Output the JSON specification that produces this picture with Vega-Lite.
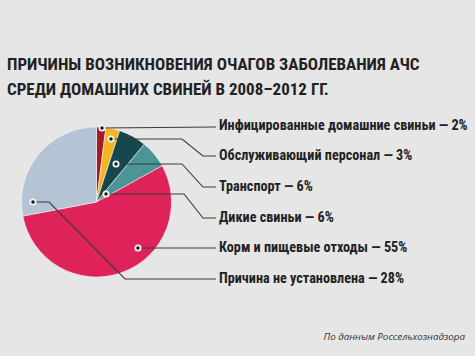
{
  "$schema": "https://vega.github.io/schema/vega-lite/v6.json",
  "autosize": "none",
  "width": 475,
  "height": 356,
  "padding": 0,
  "background": "#e6e6e6",
  "config": {"view": {"stroke": null}, "axis": {"disable": true}},
  "datasets": {
    "slices": [
      {"cause": "Инфицированные домашние свиньи", "share": 2, "k": 1},
      {"cause": "Обслуживающий персонал", "share": 3, "k": 2},
      {"cause": "Транспорт", "share": 6, "k": 3},
      {"cause": "Дикие свиньи", "share": 6, "k": 4},
      {"cause": "Корм и пищевые отходы", "share": 55, "k": 5},
      {"cause": "Причина не установлена", "share": 28, "k": 6}
    ],
    "leaders": [
      {"id": 1, "s": 1, "x": 102, "y": 128}, {"id": 1, "s": 2, "x": 216, "y": 127},
      {"id": 2, "s": 1, "x": 111, "y": 139}, {"id": 2, "s": 2, "x": 182, "y": 139}, {"id": 2, "s": 3, "x": 203, "y": 156}, {"id": 2, "s": 4, "x": 216, "y": 156},
      {"id": 3, "s": 1, "x": 116, "y": 164}, {"id": 3, "s": 2, "x": 182, "y": 164}, {"id": 3, "s": 3, "x": 203, "y": 187}, {"id": 3, "s": 4, "x": 216, "y": 187},
      {"id": 4, "s": 1, "x": 106, "y": 194}, {"id": 4, "s": 2, "x": 184, "y": 194}, {"id": 4, "s": 3, "x": 203, "y": 218}, {"id": 4, "s": 4, "x": 216, "y": 218},
      {"id": 5, "s": 1, "x": 138, "y": 248}, {"id": 5, "s": 2, "x": 216, "y": 248},
      {"id": 6, "s": 1, "x": 33, "y": 202}, {"id": 6, "s": 2, "x": 49, "y": 202}, {"id": 6, "s": 3, "x": 125, "y": 279}, {"id": 6, "s": 4, "x": 216, "y": 279}
    ],
    "labels": [
      {"label": "Инфицированные домашние свиньи — 2%", "x": 219, "y": 126},
      {"label": "Обслуживающий персонал — 3%", "x": 219, "y": 156},
      {"label": "Транспорт — 6%", "x": 219, "y": 187},
      {"label": "Дикие свиньи — 6%", "x": 219, "y": 218},
      {"label": "Корм и пищевые отходы — 55%", "x": 219, "y": 248},
      {"label": "Причина не установлена — 28%", "x": 219, "y": 279}
    ],
    "one": [{}]
  },
  "layer": [
    {
      "data": {"name": "slices"},
      "mark": {"type": "arc", "radius": 75, "stroke": "#f2f2f2", "strokeWidth": 0.6},
      "encoding": {
        "x": {"datum": 96.5, "type": "quantitative", "scale": {"domain": [0, 475], "nice": false, "zero": false}},
        "y": {"datum": 202, "type": "quantitative", "scale": {"domain": [0, 356], "nice": false, "zero": false, "reverse": true}},
        "theta": {"field": "share", "type": "quantitative", "stack": true},
        "order": {"field": "k", "type": "quantitative"},
        "color": {
          "field": "cause", "type": "nominal", "legend": null,
          "scale": {
            "domain": ["Инфицированные домашние свиньи", "Обслуживающий персонал", "Транспорт", "Дикие свиньи", "Корм и пищевые отходы", "Причина не установлена"],
            "range": ["#a8182c", "#f4b51e", "#15474d", "#4b9598", "#de225a", "#b4c4d4"]
          }
        }
      }
    },
    {
      "data": {"name": "leaders"},
      "mark": {"type": "line", "color": "#3a3a3a", "strokeWidth": 1.1},
      "encoding": {
        "x": {"field": "x", "type": "quantitative", "scale": {"domain": [0, 475], "nice": false, "zero": false}},
        "y": {"field": "y", "type": "quantitative", "scale": {"domain": [0, 356], "nice": false, "zero": false, "reverse": true}},
        "detail": {"field": "id"},
        "order": {"field": "s", "type": "quantitative"}
      }
    },
    {
      "data": {"name": "leaders"},
      "transform": [{"filter": "datum.s == 1"}],
      "mark": {"type": "point", "filled": true, "color": "#f4f4f4", "size": 50, "opacity": 1},
      "encoding": {
        "x": {"field": "x", "type": "quantitative", "scale": {"domain": [0, 475], "nice": false, "zero": false}},
        "y": {"field": "y", "type": "quantitative", "scale": {"domain": [0, 356], "nice": false, "zero": false, "reverse": true}}
      }
    },
    {
      "data": {"name": "leaders"},
      "transform": [{"filter": "datum.s == 1"}],
      "mark": {"type": "point", "filled": true, "color": "#1a1a1a", "size": 12, "opacity": 1},
      "encoding": {
        "x": {"field": "x", "type": "quantitative", "scale": {"domain": [0, 475], "nice": false, "zero": false}},
        "y": {"field": "y", "type": "quantitative", "scale": {"domain": [0, 356], "nice": false, "zero": false, "reverse": true}}
      }
    },
    {
      "data": {"name": "labels"},
      "mark": {"type": "text", "align": "left", "baseline": "middle", "font": "Roboto Condensed", "fontWeight": "bold", "fontSize": 14.2, "color": "#222222"},
      "encoding": {
        "x": {"field": "x", "type": "quantitative", "scale": {"domain": [0, 475], "nice": false, "zero": false}},
        "y": {"field": "y", "type": "quantitative", "scale": {"domain": [0, 356], "nice": false, "zero": false, "reverse": true}},
        "text": {"field": "label"}
      }
    },
    {
      "data": {"name": "one"},
      "mark": {"type": "text", "align": "left", "baseline": "alphabetic", "font": "Roboto Condensed", "fontWeight": "bold", "fontSize": 17, "lineHeight": 25, "color": "#222222",
        "text": ["ПРИЧИНЫ ВОЗНИКНОВЕНИЯ ОЧАГОВ ЗАБОЛЕВАНИЯ АЧС", "СРЕДИ ДОМАШНИХ СВИНЕЙ В 2008–2012 ГГ."]},
      "encoding": {
        "x": {"datum": 7, "type": "quantitative", "scale": {"domain": [0, 475], "nice": false, "zero": false}},
        "y": {"datum": 70, "type": "quantitative", "scale": {"domain": [0, 356], "nice": false, "zero": false, "reverse": true}}
      }
    },
    {
      "data": {"name": "one"},
      "mark": {"type": "text", "align": "right", "baseline": "alphabetic", "font": "Open Sans", "fontStyle": "italic", "fontSize": 9.8, "color": "#333333", "text": "По данным Россельхознадзора"},
      "encoding": {
        "x": {"datum": 465, "type": "quantitative", "scale": {"domain": [0, 475], "nice": false, "zero": false}},
        "y": {"datum": 340, "type": "quantitative", "scale": {"domain": [0, 356], "nice": false, "zero": false, "reverse": true}}
      }
    }
  ]
}
